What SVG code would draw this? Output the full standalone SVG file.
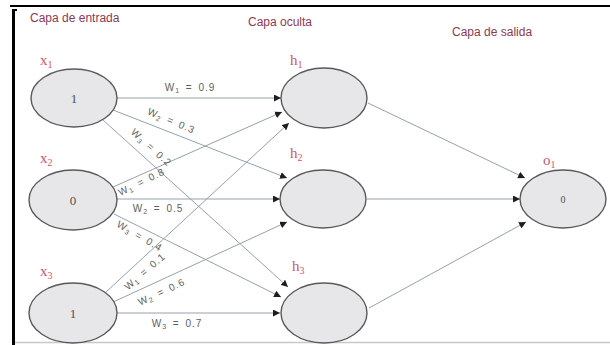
<svg xmlns="http://www.w3.org/2000/svg" width="610" height="345" viewBox="0 0 610 345">
<style>
.node{fill:#e7e7e9;stroke:#595959;stroke-width:1.4}
.lbl{font-family:"Liberation Serif",serif;font-size:15px;fill:#d0566c}
.lsub{font-size:10px}
.val{font-family:"Liberation Serif",serif;font-size:13px;fill:#505050;text-anchor:middle}
.title{font-family:"Liberation Sans",Arial,sans-serif;font-size:12px;fill:#8a3a55}
.conn line{stroke:#95a1ab;stroke-width:1;fill:none}
.arr{marker-end:url(#ah)}
.w{font-family:"Liberation Sans",Arial,sans-serif;font-size:10px;fill:#5e5e5e;text-anchor:middle;letter-spacing:1px;word-spacing:2px}
.ws{font-size:7px}
</style>
<defs>
<marker id="ah" markerUnits="userSpaceOnUse" markerWidth="8" markerHeight="7" refX="7" refY="3.5" orient="auto">
<path d="M0,0 L7,3.5 L0,7 Z" fill="#1e1e1e"/>
</marker>
</defs>
<rect width="610" height="345" fill="#ffffff"/>
<g id="frame">
<rect x="10" y="5" width="600" height="2" fill="#000"/>
<rect x="12" y="9" width="3" height="336" fill="#000"/>
<rect x="12" y="9" width="5" height="2" fill="#000"/>
<line x1="15" y1="342.5" x2="610" y2="342.5" stroke="#c8c8c8" stroke-width="1.5"/>
</g>
<g id="titles">
<text class="title" x="30" y="22">Capa de entrada</text>
<text class="title" x="248" y="26">Capa oculta</text>
<text class="title" x="452" y="36">Capa de salida</text>
</g>
<g class="conn" id="connectors">
<line class="arr" x1="117" y1="98" x2="281" y2="98"/>
<line class="arr" x1="113" y1="110" x2="287" y2="178"/>
<line class="arr" x1="103" y1="120" x2="288" y2="287"/>
<line class="arr" x1="113" y1="187" x2="282" y2="112"/>
<line class="arr" x1="117" y1="199" x2="280" y2="199"/>
<line class="arr" x1="114" y1="214" x2="281" y2="297"/>
<line class="arr" x1="106" y1="292" x2="289" y2="123"/>
<line class="arr" x1="111" y1="303" x2="287" y2="222"/>
<line class="arr" x1="117" y1="313" x2="280" y2="313"/>
<line class="arr" x1="368" y1="103" x2="525" y2="178"/>
<line class="arr" x1="367" y1="199" x2="520" y2="199"/>
<line class="arr" x1="369" y1="308" x2="526" y2="222"/>
</g>
<g id="weights">
<text class="w" transform="translate(190,91)">W<tspan class="ws" dy="2">1</tspan><tspan dy="-2"> = 0.9</tspan></text>
<text class="w" transform="translate(170,124) rotate(23)">W<tspan class="ws" dy="2">2</tspan><tspan dy="-2"> = 0.3</tspan></text>
<text class="w" transform="translate(149,150) rotate(42)">W<tspan class="ws" dy="2">3</tspan><tspan dy="-2"> = 0.2</tspan></text>
<text class="w" transform="translate(143,185) rotate(-26)">W<tspan class="ws" dy="2">1</tspan><tspan dy="-2"> = 0.8</tspan></text>
<text class="w" transform="translate(158,212)">W<tspan class="ws" dy="2">2</tspan><tspan dy="-2"> = 0.5</tspan></text>
<text class="w" transform="translate(138,239) rotate(30)">W<tspan class="ws" dy="2">3</tspan><tspan dy="-2"> = 0.4</tspan></text>
<text class="w" transform="translate(147,274) rotate(-41)">W<tspan class="ws" dy="2">1</tspan><tspan dy="-2"> = 0.1</tspan></text>
<text class="w" transform="translate(163,295) rotate(-25)">W<tspan class="ws" dy="2">2</tspan><tspan dy="-2"> = 0.6</tspan></text>
<text class="w" transform="translate(177,327)">W<tspan class="ws" dy="2">3</tspan><tspan dy="-2"> = 0.7</tspan></text>
</g>
<g id="x1">
<ellipse class="node" cx="74" cy="98" rx="43" ry="29"/>
<text class="val" x="74" y="103">1</text>
<text class="lbl" x="40" y="65">x<tspan class="lsub" dy="3">1</tspan></text>
</g>
<g id="x2">
<ellipse class="node" cx="73" cy="200" rx="44" ry="30"/>
<text class="val" x="73" y="205">0</text>
<text class="lbl" x="40" y="163">x<tspan class="lsub" dy="3">2</tspan></text>
</g>
<g id="x3">
<ellipse class="node" cx="73" cy="313" rx="44" ry="30"/>
<text class="val" x="73" y="318">1</text>
<text class="lbl" x="40" y="276">x<tspan class="lsub" dy="3">3</tspan></text>
</g>
<g id="h1">
<ellipse class="node" cx="324" cy="98" rx="43" ry="30"/>
<text class="lbl" x="290" y="65">h<tspan class="lsub" dy="3">1</tspan></text>
</g>
<g id="h2">
<ellipse class="node" cx="323" cy="199" rx="43" ry="29"/>
<text class="lbl" x="290" y="158">h<tspan class="lsub" dy="3">2</tspan></text>
</g>
<g id="h3">
<ellipse class="node" cx="324" cy="313" rx="43" ry="30"/>
<text class="lbl" x="292" y="271">h<tspan class="lsub" dy="3">3</tspan></text>
</g>
<g id="o1">
<ellipse class="node" cx="563" cy="199" rx="43" ry="29"/>
<text class="val" x="563" y="203" style="font-size:10px">0</text>
<text class="lbl" x="543" y="165">o<tspan class="lsub" dy="3">1</tspan></text>
</g>
</svg>
